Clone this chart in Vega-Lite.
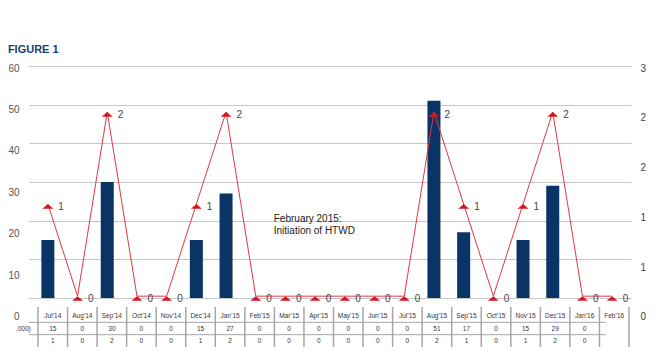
{
  "$schema": "https://vega.github.io/schema/vega-lite/v6.json",
  "padding": {"left": 7, "top": 44, "right": 0, "bottom": 0},
  "background": "white",
  "title": {"text": "FIGURE 1", "anchor": "start", "frame": "bounds", "font": "Liberation Sans", "fontSize": 11, "fontWeight": "bold", "color": "#1a3d7c", "offset": 8},
  "config": {"view": {"stroke": null}, "font": "Liberation Sans"},
  "bounds": "flush",
  "spacing": 9,
  "resolve": {"scale": {"x": "independent", "y": "independent"}},
  "datasets": {
    "monthly": [
      {"month": "Jul’14", "usd": 15, "count": 1},
      {"month": "Aug’14", "usd": 0, "count": 0},
      {"month": "Sep’14", "usd": 30, "count": 2},
      {"month": "Oct’14", "usd": 0, "count": 0},
      {"month": "Nov’14", "usd": 0, "count": 0},
      {"month": "Dec’14", "usd": 15, "count": 1},
      {"month": "Jan’15", "usd": 27, "count": 2},
      {"month": "Feb’15", "usd": 0, "count": 0},
      {"month": "Mar’15", "usd": 0, "count": 0},
      {"month": "Apr’15", "usd": 0, "count": 0},
      {"month": "May’15", "usd": 0, "count": 0},
      {"month": "Jun’15", "usd": 0, "count": 0},
      {"month": "Jul’15", "usd": 0, "count": 0},
      {"month": "Aug’15", "usd": 51, "count": 2},
      {"month": "Sep’15", "usd": 17, "count": 1},
      {"month": "Oct’15", "usd": 0, "count": 0},
      {"month": "Nov’15", "usd": 15, "count": 1},
      {"month": "Dec’15", "usd": 29, "count": 2},
      {"month": "Jan’16", "usd": 0, "count": 0},
      {"month": "Feb’16", "usd": null, "count": 0}
    ],
    "cells": [
      {"month": "Jul’14", "row": "h", "text": "Jul’14"},
      {"month": "Aug’14", "row": "h", "text": "Aug’14"},
      {"month": "Sep’14", "row": "h", "text": "Sep’14"},
      {"month": "Oct’14", "row": "h", "text": "Oct’14"},
      {"month": "Nov’14", "row": "h", "text": "Nov’14"},
      {"month": "Dec’14", "row": "h", "text": "Dec’14"},
      {"month": "Jan’15", "row": "h", "text": "Jan’15"},
      {"month": "Feb’15", "row": "h", "text": "Feb’15"},
      {"month": "Mar’15", "row": "h", "text": "Mar’15"},
      {"month": "Apr’15", "row": "h", "text": "Apr’15"},
      {"month": "May’15", "row": "h", "text": "May’15"},
      {"month": "Jun’15", "row": "h", "text": "Jun’15"},
      {"month": "Jul’15", "row": "h", "text": "Jul’15"},
      {"month": "Aug’15", "row": "h", "text": "Aug’15"},
      {"month": "Sep’15", "row": "h", "text": "Sep’15"},
      {"month": "Oct’15", "row": "h", "text": "Oct’15"},
      {"month": "Nov’15", "row": "h", "text": "Nov’15"},
      {"month": "Dec’15", "row": "h", "text": "Dec’15"},
      {"month": "Jan’16", "row": "h", "text": "Jan’16"},
      {"month": "Feb’16", "row": "h", "text": "Feb’16"},
      {"month": "Jul’14", "row": "v", "text": "15"},
      {"month": "Aug’14", "row": "v", "text": "0"},
      {"month": "Sep’14", "row": "v", "text": "30"},
      {"month": "Oct’14", "row": "v", "text": "0"},
      {"month": "Nov’14", "row": "v", "text": "0"},
      {"month": "Dec’14", "row": "v", "text": "15"},
      {"month": "Jan’15", "row": "v", "text": "27"},
      {"month": "Feb’15", "row": "v", "text": "0"},
      {"month": "Mar’15", "row": "v", "text": "0"},
      {"month": "Apr’15", "row": "v", "text": "0"},
      {"month": "May’15", "row": "v", "text": "0"},
      {"month": "Jun’15", "row": "v", "text": "0"},
      {"month": "Jul’15", "row": "v", "text": "0"},
      {"month": "Aug’15", "row": "v", "text": "51"},
      {"month": "Sep’15", "row": "v", "text": "17"},
      {"month": "Oct’15", "row": "v", "text": "0"},
      {"month": "Nov’15", "row": "v", "text": "15"},
      {"month": "Dec’15", "row": "v", "text": "29"},
      {"month": "Jan’16", "row": "v", "text": "0"},
      {"month": "Jul’14", "row": "n", "text": "1"},
      {"month": "Aug’14", "row": "n", "text": "0"},
      {"month": "Sep’14", "row": "n", "text": "2"},
      {"month": "Oct’14", "row": "n", "text": "0"},
      {"month": "Nov’14", "row": "n", "text": "0"},
      {"month": "Dec’14", "row": "n", "text": "1"},
      {"month": "Jan’15", "row": "n", "text": "2"},
      {"month": "Feb’15", "row": "n", "text": "0"},
      {"month": "Mar’15", "row": "n", "text": "0"},
      {"month": "Apr’15", "row": "n", "text": "0"},
      {"month": "May’15", "row": "n", "text": "0"},
      {"month": "Jun’15", "row": "n", "text": "0"},
      {"month": "Jul’15", "row": "n", "text": "0"},
      {"month": "Aug’15", "row": "n", "text": "2"},
      {"month": "Sep’15", "row": "n", "text": "1"},
      {"month": "Oct’15", "row": "n", "text": "0"},
      {"month": "Nov’15", "row": "n", "text": "1"},
      {"month": "Dec’15", "row": "n", "text": "2"},
      {"month": "Jan’16", "row": "n", "text": "0"}
    ]
  },
  "vconcat": [
    {
      "width": 602,
      "height": 232,
      "resolve": {"scale": {"y": "independent"}},
      "layer": [
        {
          "data": {"name": "monthly"},
          "mark": {"type": "bar", "color": "#0b3466"},
          "encoding": {
            "x": {"field": "month", "type": "nominal", "sort": null, "scale": {"type": "band", "paddingInner": 0.562, "paddingOuter": 0.416}, "axis": null},
            "y": {
              "field": "usd", "type": "quantitative",
              "scale": {"domain": [0, 60], "nice": false},
              "axis": {
                "values": [0, 10, 20, 30, 40, 50, 60], "title": null, "domain": false, "ticks": false,
                "labelOverlap": false,
                "labelPadding": 10, "labelFontSize": 10, "labelColor": "#555555",
                "gridColor": "#c6c6c6", "gridWidth": 1.2,
                "labelOffset": {"expr": "2 + (60 - datum.value) * 0.283"}
              }
            }
          }
        },
        {
          "data": {"values": [{"month": "Feb’15", "pos": 20.5, "note": ["February 2015:", "Initiation of HTWD"]}]},
          "mark": {"type": "text", "align": "left", "baseline": "middle", "dx": 18, "fontSize": 10, "lineHeight": 12, "color": "#222222"},
          "encoding": {
            "x": {"field": "month", "type": "nominal", "sort": null},
            "y": {"field": "pos", "type": "quantitative", "scale": {"domain": [0, 60], "nice": false}, "axis": null},
            "text": {"field": "note"}
          }
        },
        {
          "data": {"name": "monthly"},
          "encoding": {
            "x": {"field": "month", "type": "nominal", "sort": null},
            "y": {
              "field": "count", "type": "quantitative",
              "scale": {"domain": [-0.02, 2.5], "nice": false, "zero": false}
            }
          },
          "layer": [
            {
              "mark": {"type": "line", "color": "#e0383f", "strokeWidth": 1},
              "encoding": {
                "y": {
                  "field": "count", "type": "quantitative",
                  "axis": {
                    "orient": "right", "values": [0, 0.5, 1, 1.5, 2, 2.5], "labelExpr": "'' + round(datum.value)",
                    "title": null, "domain": false, "ticks": false, "grid": false, "labelOverlap": false,
                    "labelPadding": 9, "labelFontSize": 10, "labelColor": "#444444",
                    "labelOffset": {"expr": "2 + (2.5 - datum.value) * 7.5"}
                  }
                }
              }
            },
            {
              "mark": {"type": "point", "shape": "M0,0L1,0.85L-1,0.85Z", "filled": true, "color": "#d9161f", "size": 121, "opacity": 1}
            },
            {
              "mark": {"type": "text", "align": "left", "baseline": "middle", "dx": 10.5, "dy": 3, "fontSize": 10, "color": "#444444"},
              "encoding": {"text": {"field": "count"}}
            }
          ]
        }
      ]
    },
    {
      "width": 602,
      "height": 40,
      "layer": [
        {
          "data": {"name": "monthly"},
          "mark": {"type": "rule", "color": "#a6a6a6", "strokeWidth": 1.5},
          "encoding": {
            "x": {"field": "month", "type": "nominal", "sort": null, "bandPosition": 0, "scale": {"type": "band", "paddingInner": 0, "paddingOuter": 0, "range": [9, 600]}, "axis": null}
          }
        },
        {
          "data": {"values": [{"month": "Feb’16"}]},
          "mark": {"type": "rule", "color": "#a6a6a6", "strokeWidth": 1.5},
          "encoding": {
            "x": {"field": "month", "type": "nominal", "sort": null, "bandPosition": 1}
          }
        },
        {
          "data": {"values": [{"row": "h"}, {"row": "v"}]},
          "mark": {"type": "rule", "color": "#a6a6a6", "strokeWidth": 1, "xOffset": -25, "x2Offset": -2},
          "encoding": {
            "y": {"field": "row", "type": "nominal", "bandPosition": 1, "scale": {"type": "band", "domain": ["h", "v", "n"], "range": [3, 40], "paddingInner": 0, "paddingOuter": 0}, "axis": null}
          }
        },
        {
          "data": {"name": "cells"},
          "mark": {"type": "text", "fontSize": 6.5, "color": "#333333", "baseline": "middle"},
          "encoding": {
            "x": {"field": "month", "type": "nominal", "sort": null},
            "y": {"field": "row", "type": "nominal"},
            "text": {"field": "text"}
          }
        },
        {
          "data": {"values": [{"month": "Jul’14", "row": "v", "label": ",000)"}]},
          "mark": {"type": "text", "fontSize": 6.5, "color": "#333333", "baseline": "middle", "align": "right", "dx": -22},
          "encoding": {
            "x": {"field": "month", "type": "nominal", "sort": null},
            "y": {"field": "row", "type": "nominal"},
            "text": {"field": "label"}
          }
        }
      ]
    }
  ]
}
